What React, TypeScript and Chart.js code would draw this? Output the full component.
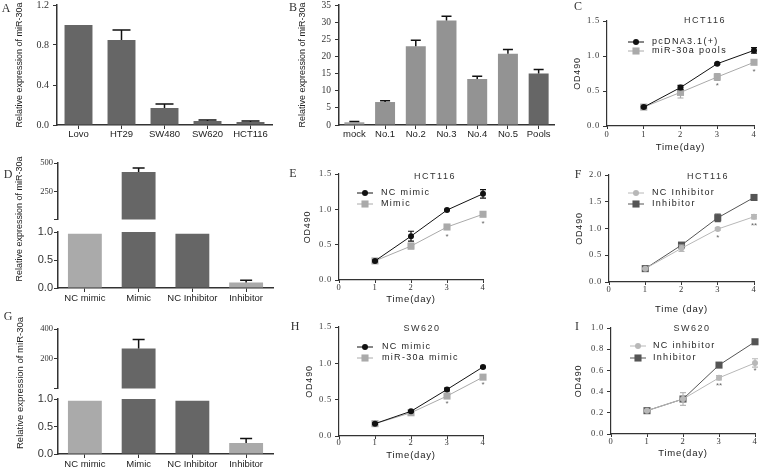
import React, { useEffect, useRef } from 'react';
import { Chart, registerables } from 'chart.js';

Chart.register(...registerables);

// ---------------- data ----------------
const aCategories = ['Lovo', 'HT29', 'SW480', 'SW620', 'HCT116'];
const aValues = [1.0, 0.85, 0.17, 0.04, 0.03];
const aErrors = [0, 0.1, 0.04, 0.01, 0.01];
const aColors = ['#666666', '#666666', '#666666', '#666666', '#666666'];
const aTickValues = [0, 0.4, 0.8, 1.2];
const aTickLabels = ['0.0', '0.4', '0.8', '1.2'];

const bCategories = ['mock', 'No.1', 'No.2', 'No.3', 'No.4', 'No.5', 'Pools'];
const bValues = [0.8, 6.7, 23.0, 30.5, 13.4, 20.8, 15.0];
const bErrors = [0.2, 0.4, 1.7, 1.2, 0.8, 1.2, 1.2];
const bColors = ['#a3a3a3', '#939393', '#939393', '#939393', '#939393', '#939393', '#666666'];
const bTickValues = [0, 5, 10, 15, 20, 25, 30, 35];
const bTickLabels = ['0', '5', '10', '15', '20', '25', '30', '35'];

const mimicCategories = ['NC mimic', 'Mimic', 'NC Inhibitor', 'Inhibitor'];
const mimicColors = ['#aaaaaa', '#666666', '#666666', '#aaaaaa'];
const dValues = [0.97, 420, 0.97, 0.1];
const dErrors = [0, 35, 0, 0.04];
const dTopValues = [null, 420, null, null];
const dTopTickValues = [0, 250, 500];
const dTopTickLabels = ['', '250', '500'];
const gValues = [0.97, 270, 0.97, 0.2];
const gErrors = [0, 60, 0, 0.08];
const gTopValues = [null, 270, null, null];
const gTopTickValues = [0, 200, 400];
const gTopTickLabels = ['', '200', '400'];
const breakTickValues = [0, 0.5, 1.0];
const breakTickLabels = ['0.0', '0.5', '1.0'];

const days = [1, 2, 3, 4];
const dayTickValues = [0, 1, 2, 3, 4];
const dayTickLabels = ['0', '1', '2', '3', '4'];
const od15TickValues = [0, 0.5, 1.0, 1.5];
const od15TickLabels = ['0.0', '0.5', '1.0', '1.5'];
const od20TickValues = [0, 0.5, 1.0, 1.5, 2.0];
const od20TickLabels = ['0.0', '0.5', '1.0', '1.5', '2.0'];
const od10TickValues = [0, 0.2, 0.4, 0.6, 0.8, 1.0];
const od10TickLabels = ['0.0', '0.2', '0.4', '0.6', '0.8', '1.0'];

const cNames = ['pcDNA3.1(+)', 'miR-30a pools'];
const cControl = [0.27, 0.55, 0.89, 1.08];
const cControlErr = [0.01, 0.03, 0.01, 0.04];
const cTreated = [0.27, 0.48, 0.7, 0.91];
const cTreatedErr = [0.01, 0.08, 0.05, 0.02];
const cStars = ['', '', '*', '*'];

const eNames = ['NC mimic', 'Mimic'];
const eControl = [0.27, 0.62, 0.99, 1.22];
const eControlErr = [0.01, 0.07, 0.01, 0.06];
const eTreated = [0.27, 0.48, 0.75, 0.93];
const eTreatedErr = [0.01, 0.04, 0.01, 0.03];
const eStars = ['', '', '*', '*'];

const fNames = ['NC Inhibitor', 'Inhibitor'];
const fControl = [0.25, 0.63, 0.99, 1.22];
const fControlErr = [0.01, 0.06, 0.02, 0.04];
const fTreated = [0.25, 0.69, 1.2, 1.58];
const fTreatedErr = [0.01, 0.04, 0.07, 0.05];
const fStars = ['', '', '*', '**'];

const hNames = ['NC mimic', 'miR-30a mimic'];
const hControl = [0.17, 0.34, 0.64, 0.95];
const hControlErr = [0.01, 0.01, 0.02, 0.01];
const hTreated = [0.17, 0.32, 0.55, 0.81];
const hTreatedErr = [0.01, 0.01, 0.02, 0.02];
const hStars = ['', '', '*', '*'];

const iNames = ['NC inhibitor', 'Inhibitor'];
const iControl = [0.22, 0.33, 0.53, 0.67];
const iControlErr = [0.005, 0.06, 0.02, 0.04];
const iTreated = [0.22, 0.33, 0.65, 0.87];
const iTreatedErr = [0.005, 0.01, 0.01, 0.01];
const iStars = ['', '', '**', '*'];

// ---------------- styling ----------------
const SANS = 'Liberation Sans';
const SERIF = 'Liberation Serif';
const AXIS = '#333333';
const TEXT = '#222222';
const BLACK = '#111111';
const LIGHT = '#aaaaaa';
const PALE = '#b8b8b8';
const DARK = '#555555';
const YTITLE = 'Relative expression of miR-30a';

type Box = { l: number; t: number; r: number; b: number };

const errorBarPlugin = {
  id: 'errorBars',
  afterDatasetDraw(chart: any, args: any) {
    const ds = chart.data.datasets[args.index];
    if (!ds.errors) return;
    const meta = args.meta;
    const yScale = chart.scales[meta.yAxisID];
    const ctx = chart.ctx;
    const a = chart.chartArea;
    ctx.save();
    ctx.beginPath();
    ctx.rect(a.left - 10, a.top - 1, a.right - a.left + 20, a.bottom - a.top + 2);
    ctx.clip();
    ctx.strokeStyle = ds.errorColor || BLACK;
    ctx.lineWidth = ds.errorWidth || 1;
    meta.data.forEach((el: any, i: number) => {
      const e = ds.errors[i];
      const raw = ds.data[i];
      const v = raw == null ? null : typeof raw === 'number' ? raw : raw.y;
      if (!e || v == null) return;
      const x = el.x;
      const h = ds.capHalf || 4;
      const yHi = yScale.getPixelForValue(v + e);
      const yLo = yScale.getPixelForValue(ds.errorBoth ? v - e : v);
      ctx.beginPath();
      ctx.moveTo(x, yLo);
      ctx.lineTo(x, yHi);
      ctx.moveTo(x - h, yHi);
      ctx.lineTo(x + h, yHi);
      if (ds.errorBoth) {
        ctx.moveTo(x - h, yLo);
        ctx.lineTo(x + h, yLo);
      }
      ctx.stroke();
    });
    ctx.restore();
  },
};

function makeAnnot(box: Box, spec: any) {
  return {
    id: 'annot',
    beforeDraw(chart: any) {
      chart.ctx.letterSpacing = spec.spacing || '0px';
    },
    afterDraw(chart: any) {
      const ctx = chart.ctx;
      const ox = box.l;
      const oy = box.t;
      ctx.save();
      ctx.textBaseline = 'middle';
      (spec.texts || []).forEach((t: any) => {
        ctx.save();
        ctx.font = t.font || `12px ${SERIF}`;
        ctx.fillStyle = t.color || '#333333';
        ctx.letterSpacing = t.spacing || '0px';
        ctx.textAlign = t.align || 'center';
        ctx.translate(t.x - ox, t.y - oy);
        if (t.rotate) ctx.rotate(t.rotate);
        ctx.fillText(t.text, 0, 0);
        ctx.restore();
      });
      if (spec.legend) {
        const L = spec.legend;
        chart.data.datasets.forEach((ds: any, i: number) => {
          const y = L.y + i * L.gap - oy;
          const x = L.x - ox;
          ctx.strokeStyle = ds.borderColor;
          ctx.lineWidth = 1;
          ctx.beginPath();
          ctx.moveTo(x, y);
          ctx.lineTo(x + L.len, y);
          ctx.stroke();
          ctx.fillStyle = ds.pointBackgroundColor;
          const cx = x + L.len / 2;
          if (ds.pointStyle === 'rect') {
            const s = ds.pointRadius * Math.SQRT1_2;
            ctx.fillRect(cx - s, y - s, 2 * s, 2 * s);
          } else {
            ctx.beginPath();
            ctx.arc(cx, y, ds.pointRadius, 0, Math.PI * 2);
            ctx.fill();
          }
          ctx.font = `9px ${SANS}`;
          ctx.fillStyle = TEXT;
          ctx.textAlign = 'left';
          ctx.letterSpacing = '1.3px';
          ctx.fillText(ds.label, L.textX - ox, y);
        });
      }
      if (spec.stars) {
        const meta = chart.getDatasetMeta(spec.stars.dataset);
        ctx.font = `8px ${SANS}`;
        ctx.fillStyle = '#666666';
        ctx.textAlign = 'center';
        ctx.letterSpacing = '0px';
        spec.stars.labels.forEach((s: string, i: number) => {
          if (!s) return;
          const el = meta.data[i];
          ctx.fillText(s, el.x, el.y + spec.stars.offset);
        });
      }
      ctx.restore();
    },
  };
}

function yAxis(o: any) {
  return {
    position: 'left',
    min: o.values[0],
    max: o.values[o.values.length - 1],
    afterBuildTicks: (s: any) => {
      s.ticks = o.values.map((v: number) => ({ value: v }));
    },
    afterFit: (s: any) => {
      s.width = o.width;
    },
    ticks: {
      autoSkip: false,
      font: o.font,
      color: '#333333',
      padding: o.pad,
      callback: (_v: any, i: number) => o.labels[i],
    },
    grid: { drawOnChartArea: false, drawTicks: true, tickLength: 4, color: AXIS, lineWidth: 1 },
    border: { display: true, color: AXIS, width: o.borderWidth || 1.5 },
    title: o.title
      ? {
          display: true,
          text: o.title,
          font: { family: SANS, size: o.titleSize },
          color: TEXT,
          padding: { top: o.titleX - o.boxLeft - (o.titleSize * 1.2) / 2, bottom: 0 },
        }
      : { display: false },
  };
}

function barConfig(p: any) {
  const { box, area } = p;
  const yW = area.l - box.l;
  const pt = area.t - box.t;
  const pr = box.r - area.r;
  const xH = box.b - area.b;
  const xFont = p.xFontSize || 9.5;
  const xScale: any = {
    display: !!p.showX,
    offset: true,
    grid: { offset: false, drawOnChartArea: false, tickLength: 4, color: AXIS, lineWidth: 1 },
    border: { color: AXIS, width: 1.5 },
    ticks: {
      font: { family: SANS, size: xFont },
      color: TEXT,
      padding: p.showX ? p.xTickY - area.b - 4 - (xFont * 1.2) / 2 : 0,
      maxRotation: 0,
      autoSkip: false,
    },
  };
  if (p.showX) xScale.afterFit = (s: any) => { s.height = xH; };
  return {
    type: 'bar',
    data: {
      labels: p.labels,
      datasets: [
        {
          data: p.values,
          backgroundColor: p.colors,
          borderWidth: 0,
          barPercentage: p.barPct,
          categoryPercentage: 1,
          errors: p.errors,
          capHalf: p.capHalf,
          errorWidth: 1.5,
          errorColor: BLACK,
        },
      ],
    },
    options: {
      responsive: false,
      animation: false,
      events: [],
      layout: { padding: { left: 0, top: pt, right: pr, bottom: p.showX ? 0 : xH } },
      plugins: { legend: { display: false }, tooltip: { enabled: false } },
      scales: {
        x: xScale,
        y: yAxis({
          values: p.tickValues,
          labels: p.tickLabels,
          width: yW,
          font: p.tickFont,
          pad: p.tickPad,
          title: p.yTitle,
          titleSize: 9,
          titleX: p.yTitleX,
          boxLeft: box.l,
        }),
      },
    },
    plugins: [errorBarPlugin, makeAnnot(box, p.annot || {})],
  };
}

function lineConfig(p: any) {
  const { box, area } = p;
  const yW = area.l - box.l;
  const pt = area.t - box.t;
  const pr = box.r - area.r;
  const xH = box.b - area.b;
  const tickSize = 8.5;
  const datasets = p.series.map((s: any) => ({
    label: s.name,
    data: days.map((d, i) => ({ x: d, y: s.values[i] })),
    borderColor: s.color,
    backgroundColor: s.color,
    pointBackgroundColor: s.color,
    pointBorderColor: s.color,
    pointBorderWidth: 0,
    pointStyle: s.marker,
    pointRadius: s.marker === 'rect' ? 5 : 3,
    borderWidth: 1,
    clip: 10,
    errors: s.errors,
    errorBoth: true,
    capHalf: 3,
    errorColor: s.color,
    errorWidth: 1.2,
  }));
  return {
    type: 'line',
    data: { datasets },
    options: {
      responsive: false,
      animation: false,
      events: [],
      layout: { padding: { left: 0, top: pt, right: pr, bottom: 0 } },
      plugins: { legend: { display: false }, tooltip: { enabled: false } },
      scales: {
        x: {
          type: 'linear',
          min: dayTickValues[0],
          max: dayTickValues[dayTickValues.length - 1],
          afterBuildTicks: (s: any) => {
            s.ticks = dayTickValues.map((v) => ({ value: v }));
          },
          afterFit: (s: any) => {
            s.height = xH;
          },
          ticks: {
            autoSkip: false,
            font: { family: SERIF, size: tickSize },
            color: '#333333',
            padding: p.xTickY - area.b - 3 - (tickSize * 1.2) / 2,
            callback: (_v: any, i: number) => dayTickLabels[i],
          },
          grid: { drawOnChartArea: false, tickLength: 3, color: AXIS, lineWidth: 1 },
          border: { color: AXIS, width: 1.2 },
          title: {
            display: true,
            text: p.xTitle,
            font: { family: SANS, size: 9.5 },
            color: TEXT,
            padding: { top: 0, bottom: box.b - p.xTitleY - 5.7 },
          },
        },
        y: yAxis({
          values: p.tickValues,
          labels: p.tickLabels,
          width: yW,
          font: { family: SERIF, size: tickSize },
          pad: 3,
          title: 'OD490',
          titleSize: 9,
          titleX: p.yTitleX,
          boxLeft: box.l,
          borderWidth: 1.2,
        }),
      },
    },
    plugins: [errorBarPlugin, makeAnnot(box, { ...p.annot, spacing: '0.8px' })],
  };
}

// ---------------- panels ----------------
const boxA: Box = { l: 0, t: -10, r: 285, b: 150 };
const boxB: Box = { l: 285, t: -10, r: 565, b: 150 };
const boxC: Box = { l: 565, t: -10, r: 760, b: 155 };
const boxDBottom: Box = { l: 0, t: 140, r: 285, b: 315 };
const boxDTop: Box = { l: 0, t: 140, r: 285, b: 226 };
const boxE: Box = { l: 285, t: 140, r: 565, b: 310 };
const boxF: Box = { l: 565, t: 140, r: 760, b: 318 };
const boxGBottom: Box = { l: 0, t: 305, r: 285, b: 478 };
const boxGTop: Box = { l: 0, t: 305, r: 285, b: 395 };
const boxH: Box = { l: 285, t: 305, r: 565, b: 478 };
const boxI: Box = { l: 565, t: 305, r: 760, b: 478 };

const letter = (text: string, x: number, y: number) => ({ text, x, y, font: `12px ${SERIF}`, color: '#333333' });
const heading = (text: string, x: number, y: number) => ({ text, x, y, font: `9px ${SANS}`, color: '#333333', spacing: '1.5px' });

const panels: { key: string; box: Box; make: () => any }[] = [
  {
    key: 'A',
    box: boxA,
    make: () =>
      barConfig({
        box: boxA,
        area: { l: 57, t: 5, r: 272, b: 125 },
        labels: aCategories,
        values: aValues,
        errors: aErrors,
        colors: aColors,
        barPct: 0.65,
        capHalf: 9,
        showX: true,
        xTickY: 134,
        tickValues: aTickValues,
        tickLabels: aTickLabels,
        tickFont: { family: SERIF, size: 10 },
        tickPad: 4,
        yTitle: YTITLE,
        yTitleX: 20,
        annot: { texts: [letter('A', 6, 9)] },
      }),
  },
  {
    key: 'B',
    box: boxB,
    make: () =>
      barConfig({
        box: boxB,
        area: { l: 339, t: 5, r: 554, b: 125 },
        labels: bCategories,
        values: bValues,
        errors: bErrors,
        colors: bColors,
        barPct: 0.65,
        capHalf: 5,
        showX: true,
        xTickY: 134,
        tickValues: bTickValues,
        tickLabels: bTickLabels,
        tickFont: { family: SERIF, size: 9.5 },
        tickPad: 4,
        yTitle: YTITLE,
        yTitleX: 303,
        annot: { texts: [letter('B', 293, 8)] },
      }),
  },
  {
    key: 'C',
    box: boxC,
    make: () =>
      lineConfig({
        box: boxC,
        area: { l: 607, t: 21, r: 754, b: 126 },
        series: [
          { name: cNames[0], values: cControl, errors: cControlErr, color: BLACK, marker: 'circle' },
          { name: cNames[1], values: cTreated, errors: cTreatedErr, color: LIGHT, marker: 'rect' },
        ],
        tickValues: od15TickValues,
        tickLabels: od15TickLabels,
        xTitle: 'Time(day)',
        xTickY: 135,
        xTitleY: 147,
        yTitleX: 578,
        annot: {
          texts: [letter('C', 578, 7), heading('HCT116', 705, 21)],
          legend: { x: 628, textX: 652, y: 42, gap: 9, len: 16 },
          stars: { dataset: 1, labels: cStars, offset: 9 },
        },
      }),
  },
  {
    key: 'Dbottom',
    box: boxDBottom,
    make: () =>
      barConfig({
        box: boxDBottom,
        area: { l: 58, t: 232, r: 273, b: 288 },
        labels: mimicCategories,
        values: dValues,
        errors: dErrors,
        colors: mimicColors,
        barPct: 0.63,
        capHalf: 6,
        showX: true,
        xFontSize: 9.5,
        xTickY: 298,
        tickValues: breakTickValues,
        tickLabels: breakTickLabels,
        tickFont: { family: SANS, size: 11 },
        tickPad: 1,
        annot: {
          texts: [
            letter('D', 8, 175),
            { text: YTITLE, x: 20, y: 219, rotate: -Math.PI / 2, font: `9px ${SANS}`, color: TEXT },
          ],
        },
      }),
  },
  {
    key: 'Dtop',
    box: boxDTop,
    make: () =>
      barConfig({
        box: boxDTop,
        area: { l: 58, t: 163, r: 273, b: 222 },
        labels: mimicCategories,
        values: dTopValues,
        errors: dErrors,
        colors: mimicColors,
        barPct: 0.63,
        capHalf: 6,
        showX: false,
        tickValues: dTopTickValues,
        tickLabels: dTopTickLabels,
        tickFont: { family: SERIF, size: 8.5 },
        tickPad: 1,
      }),
  },
  {
    key: 'E',
    box: boxE,
    make: () =>
      lineConfig({
        box: boxE,
        area: { l: 339, t: 174, r: 483, b: 280 },
        series: [
          { name: eNames[0], values: eControl, errors: eControlErr, color: BLACK, marker: 'circle' },
          { name: eNames[1], values: eTreated, errors: eTreatedErr, color: LIGHT, marker: 'rect' },
        ],
        tickValues: od15TickValues,
        tickLabels: od15TickLabels,
        xTitle: 'Time(day)',
        xTickY: 288,
        xTitleY: 299,
        yTitleX: 308,
        annot: {
          texts: [letter('E', 293, 174), heading('HCT116', 435, 177)],
          legend: { x: 357, textX: 381, y: 193, gap: 11, len: 16 },
          stars: { dataset: 1, labels: eStars, offset: 10 },
        },
      }),
  },
  {
    key: 'F',
    box: boxF,
    make: () =>
      lineConfig({
        box: boxF,
        area: { l: 609, t: 175, r: 754, b: 282 },
        series: [
          { name: fNames[0], values: fControl, errors: fControlErr, color: PALE, marker: 'circle' },
          { name: fNames[1], values: fTreated, errors: fTreatedErr, color: DARK, marker: 'rect' },
        ],
        tickValues: od20TickValues,
        tickLabels: od20TickLabels,
        xTitle: 'Time (day)',
        xTickY: 290,
        xTitleY: 309,
        yTitleX: 580,
        annot: {
          texts: [letter('F', 578, 175), heading('HCT116', 708, 177)],
          legend: { x: 628, textX: 652, y: 193, gap: 11, len: 16 },
          stars: { dataset: 0, labels: fStars, offset: 9 },
        },
      }),
  },
  {
    key: 'Gbottom',
    box: boxGBottom,
    make: () =>
      barConfig({
        box: boxGBottom,
        area: { l: 58, t: 399, r: 273, b: 454 },
        labels: mimicCategories,
        values: gValues,
        errors: gErrors,
        colors: mimicColors,
        barPct: 0.63,
        capHalf: 6,
        showX: true,
        xFontSize: 9.5,
        xTickY: 464,
        tickValues: breakTickValues,
        tickLabels: breakTickLabels,
        tickFont: { family: SANS, size: 11 },
        tickPad: 1,
        annot: {
          texts: [
            letter('G', 8, 317),
            { text: YTITLE, x: 20, y: 383, rotate: -Math.PI / 2, font: `9.5px ${SANS}`, color: TEXT },
          ],
        },
      }),
  },
  {
    key: 'Gtop',
    box: boxGTop,
    make: () =>
      barConfig({
        box: boxGTop,
        area: { l: 58, t: 329, r: 273, b: 391 },
        labels: mimicCategories,
        values: gTopValues,
        errors: gErrors,
        colors: mimicColors,
        barPct: 0.63,
        capHalf: 6,
        showX: false,
        tickValues: gTopTickValues,
        tickLabels: gTopTickLabels,
        tickFont: { family: SERIF, size: 8.5 },
        tickPad: 1,
      }),
  },
  {
    key: 'H',
    box: boxH,
    make: () =>
      lineConfig({
        box: boxH,
        area: { l: 339, t: 327, r: 483, b: 436 },
        series: [
          { name: hNames[0], values: hControl, errors: hControlErr, color: BLACK, marker: 'circle' },
          { name: hNames[1], values: hTreated, errors: hTreatedErr, color: LIGHT, marker: 'rect' },
        ],
        tickValues: od15TickValues,
        tickLabels: od15TickLabels,
        xTitle: 'Time(day)',
        xTickY: 443,
        xTitleY: 455,
        yTitleX: 310,
        annot: {
          texts: [letter('H', 295, 327), heading('SW620', 422, 329)],
          legend: { x: 357, textX: 382, y: 347, gap: 11, len: 16 },
          stars: { dataset: 1, labels: hStars, offset: 8 },
        },
      }),
  },
  {
    key: 'I',
    box: boxI,
    make: () =>
      lineConfig({
        box: boxI,
        area: { l: 611, t: 328, r: 755, b: 434 },
        series: [
          { name: iNames[0], values: iControl, errors: iControlErr, color: PALE, marker: 'circle' },
          { name: iNames[1], values: iTreated, errors: iTreatedErr, color: DARK, marker: 'rect' },
        ],
        tickValues: od10TickValues,
        tickLabels: od10TickLabels,
        xTitle: 'Time(day)',
        xTickY: 442,
        xTitleY: 453,
        yTitleX: 579,
        annot: {
          texts: [letter('I', 577, 327), heading('SW620', 692, 329)],
          legend: { x: 630, textX: 653, y: 346, gap: 12, len: 16 },
          stars: { dataset: 0, labels: iStars, offset: 8 },
        },
      }),
  },
];

function ChartBox({ box, make }: { box: Box; make: () => any }) {
  const ref = useRef<HTMLCanvasElement>(null);
  useEffect(() => {
    const chart = new Chart(ref.current as HTMLCanvasElement, make());
    return () => chart.destroy();
  }, []);
  const w = box.r - box.l;
  const h = box.b - box.t;
  return (
    <canvas
      ref={ref}
      width={w}
      height={h}
      style={{ position: 'absolute', left: box.l, top: box.t, width: w, height: h }}
    />
  );
}

export default function App() {
  return (
    <div
      style={{
        position: 'absolute',
        left: 0,
        top: 0,
        width: 760,
        height: 468,
        overflow: 'hidden',
        background: '#ffffff',
      }}
    >
      {panels.map((p) => (
        <ChartBox key={p.key} box={p.box} make={p.make} />
      ))}
    </div>
  );
}
